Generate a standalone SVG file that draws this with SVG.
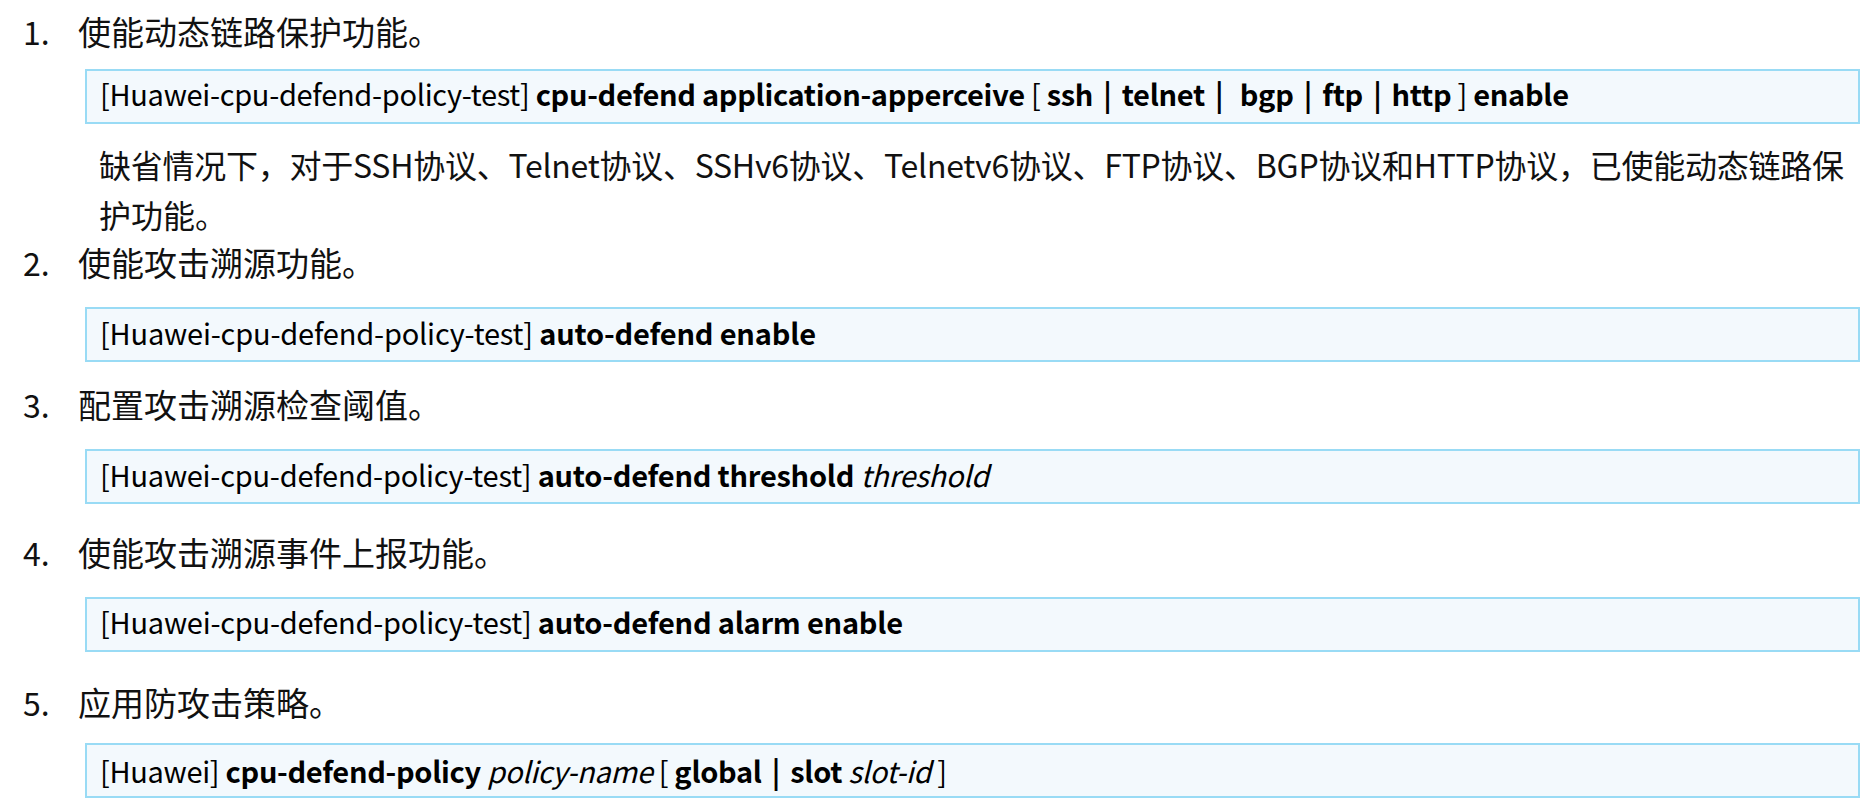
<svg xmlns="http://www.w3.org/2000/svg" width="1862" height="811" viewBox="0 0 1862 811">
<style>
text{font-family:"Noto Sans CJK SC","Liberation Sans",sans-serif;fill:#111;white-space:pre}
.num{font-size:32px}
.ttl{font-size:33px}
.para{font-size:32px}
.box{fill:#f3f9fd;stroke:#99dbf5;stroke-width:2}
.cmd{font-size:29px;fill:#000}
.b{font-weight:bold}
.i{font-style:italic}
</style>
<rect width="1862" height="811" fill="#fff"/>
<g id="step1">
<text class="num" x="23" y="45">1.</text>
<text class="ttl" x="78" y="45">使能动态链路保护功能。</text>
<rect class="box" x="86" y="70" width="1773" height="53"/>
<text class="cmd" x="100" y="106" textLength="1469" lengthAdjust="spacing" xml:space="preserve">[Huawei-cpu-defend-policy-test] <tspan class="b">cpu-defend application-apperceive</tspan> [ <tspan class="b">ssh</tspan> <tspan class="b" dx="4">|</tspan> <tspan class="b" dx="4">telnet</tspan> <tspan class="b" dx="4">|</tspan>  <tspan class="b" dx="4">bgp</tspan> <tspan class="b" dx="4">|</tspan> <tspan class="b" dx="4">ftp</tspan> <tspan class="b" dx="4">|</tspan> <tspan class="b" dx="4">http</tspan> ] <tspan class="b">enable</tspan></text>
<text class="para" x="99" y="178" textLength="1745" lengthAdjust="spacing">缺省情况下，对于SSH协议、Telnet协议、SSHv6协议、Telnetv6协议、FTP协议、BGP协议和HTTP协议，已使能动态链路保</text>
<text class="para" x="99" y="228">护功能。</text>
</g>
<g id="step2">
<text class="num" x="23" y="276">2.</text>
<text class="ttl" x="78" y="276">使能攻击溯源功能。</text>
<rect class="box" x="86" y="308" width="1773" height="53"/>
<text class="cmd" x="100" y="345" textLength="716" lengthAdjust="spacing" xml:space="preserve">[Huawei-cpu-defend-policy-test] <tspan class="b">auto-defend enable</tspan></text>
</g>
<g id="step3">
<text class="num" x="23" y="418">3.</text>
<text class="ttl" x="78" y="418">配置攻击溯源检查阈值。</text>
<rect class="box" x="86" y="450" width="1773" height="53"/>
<text class="cmd" x="100" y="487" textLength="889" lengthAdjust="spacing" xml:space="preserve">[Huawei-cpu-defend-policy-test] <tspan class="b">auto-defend threshold</tspan> <tspan class="i">threshold</tspan></text>
</g>
<g id="step4">
<text class="num" x="23" y="566">4.</text>
<text class="ttl" x="78" y="566">使能攻击溯源事件上报功能。</text>
<rect class="box" x="86" y="598" width="1773" height="53"/>
<text class="cmd" x="100" y="634" textLength="803" lengthAdjust="spacing" xml:space="preserve">[Huawei-cpu-defend-policy-test] <tspan class="b">auto-defend alarm enable</tspan></text>
</g>
<g id="step5">
<text class="num" x="23" y="716">5.</text>
<text class="ttl" x="78" y="716">应用防攻击策略。</text>
<rect class="box" x="86" y="744" width="1773" height="53"/>
<text class="cmd" x="100" y="783" textLength="847" lengthAdjust="spacing" xml:space="preserve">[Huawei] <tspan class="b">cpu-defend-policy</tspan> <tspan class="i">policy-name</tspan> [ <tspan class="b">global</tspan> <tspan class="b" dx="4">|</tspan> <tspan class="b" dx="4">slot</tspan> <tspan class="i">slot-id</tspan> ]</text>
</g>
</svg>
